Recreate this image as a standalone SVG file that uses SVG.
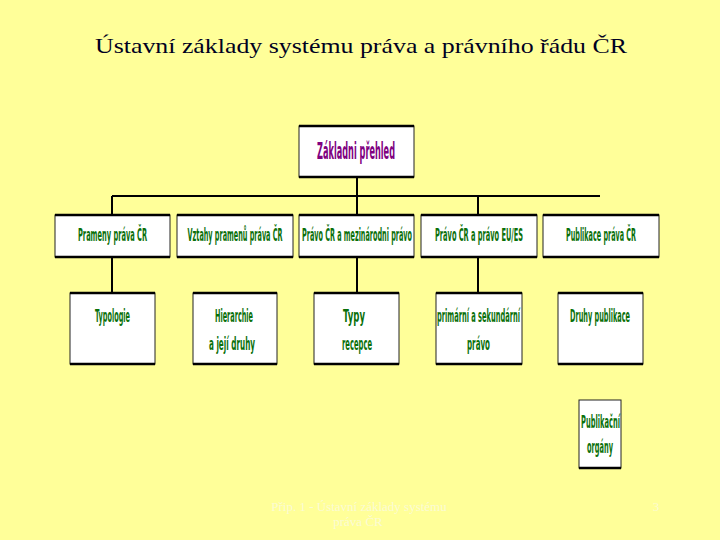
<svg xmlns="http://www.w3.org/2000/svg" width="720" height="540" viewBox="0 0 720 540">
<style>
.box{fill:#ffffff;stroke:#222;stroke-width:1}
.edge{stroke:#000;stroke-width:2.5}
.conn{stroke:#000;stroke-width:2;fill:none}
.t{font-family:"Liberation Sans Narrow","DejaVu Sans Condensed","Liberation Sans",sans-serif;font-weight:bold;text-anchor:middle}
.g{fill:#0a700a;font-size:18.5px}
.p{fill:#800080;font-size:23px}
.foot{font-family:"Liberation Serif",serif;font-size:13px;fill:#fbfbd4}
</style>
<rect width="720" height="540" fill="#ffff99"/>
<text x="361" y="53" font-family="Liberation Serif,serif" font-size="22" fill="#000022" text-anchor="middle" textLength="532" lengthAdjust="spacingAndGlyphs">Ústavní základy systému práva a právního řádu ČR</text>

<g id="connectors">
<path class="conn" d="M357,177 V196 M112,196 H600 M112,196 V215 M357,196 V215 M478,196 V215 M112,257 V293 M357,257 V293 M478,257 V293"/>
</g>

<g id="n-prehled">
<rect class="box" x="299" y="126" width="115" height="51"/>
<line class="edge" x1="299" y1="126" x2="414" y2="126"/><line class="edge" x1="299" y1="177" x2="414" y2="177"/>
<text class="t p" x="356" y="159" textLength="78" lengthAdjust="spacingAndGlyphs">Základni přehled</text>
</g>

<g id="n-prameny">
<rect class="box" x="55" y="215" width="115" height="42"/>
<line class="edge" x1="55" y1="215" x2="170" y2="215"/><line class="edge" x1="55" y1="257" x2="170" y2="257"/>
<text class="t g" x="112.5" y="241" textLength="69" lengthAdjust="spacingAndGlyphs">Prameny práva ČR</text>
</g>
<g id="n-vztahy">
<rect class="box" x="177" y="215" width="116" height="42"/>
<line class="edge" x1="177" y1="215" x2="293" y2="215"/><line class="edge" x1="177" y1="257" x2="293" y2="257"/>
<text class="t g" x="235" y="241" textLength="95" lengthAdjust="spacingAndGlyphs">Vztahy pramenů práva ČR</text>
</g>
<g id="n-mezinarodni">
<rect class="box" x="299" y="215" width="115" height="42"/>
<line class="edge" x1="299" y1="215" x2="414" y2="215"/><line class="edge" x1="299" y1="257" x2="414" y2="257"/>
<text class="t g" x="357" y="241" textLength="110" lengthAdjust="spacingAndGlyphs">Právo ČR a mezinárodni právo</text>
</g>
<g id="n-eu">
<rect class="box" x="421" y="215" width="116" height="42"/>
<line class="edge" x1="421" y1="215" x2="537" y2="215"/><line class="edge" x1="421" y1="257" x2="537" y2="257"/>
<text class="t g" x="479" y="241" textLength="88" lengthAdjust="spacingAndGlyphs">Právo ČR a právo EU/ES</text>
</g>
<g id="n-publikace">
<rect class="box" x="543" y="215" width="116" height="42"/>
<line class="edge" x1="543" y1="215" x2="659" y2="215"/><line class="edge" x1="543" y1="257" x2="659" y2="257"/>
<text class="t g" x="601" y="241" textLength="70" lengthAdjust="spacingAndGlyphs">Publikace práva ČR</text>
</g>

<g id="n-typologie">
<rect class="box" x="70" y="293" width="85" height="71"/>
<line class="edge" x1="70" y1="293" x2="155" y2="293"/><line class="edge" x1="70" y1="364" x2="155" y2="364"/>
<text class="t g" x="112.5" y="322" textLength="35" lengthAdjust="spacingAndGlyphs">Typologie</text>
</g>
<g id="n-hierarchie">
<rect class="box" x="193" y="293" width="84" height="71"/>
<line class="edge" x1="193" y1="293" x2="277" y2="293"/><line class="edge" x1="193" y1="364" x2="277" y2="364"/>
<text class="t g" x="234" y="322" textLength="38" lengthAdjust="spacingAndGlyphs">Hierarchie</text>
<text class="t g" x="232" y="350" textLength="46" lengthAdjust="spacingAndGlyphs">a její druhy</text>
</g>
<g id="n-typy">
<rect class="box" x="314" y="293" width="85" height="71"/>
<line class="edge" x1="314" y1="293" x2="399" y2="293"/><line class="edge" x1="314" y1="364" x2="399" y2="364"/>
<text class="t g" x="354" y="322" textLength="22" lengthAdjust="spacingAndGlyphs">Typy</text>
<text class="t g" x="357" y="350" textLength="30" lengthAdjust="spacingAndGlyphs">recepce</text>
</g>
<g id="n-primarni">
<rect class="box" x="436" y="293" width="86" height="71"/>
<line class="edge" x1="436" y1="293" x2="522" y2="293"/><line class="edge" x1="436" y1="364" x2="522" y2="364"/>
<text class="t g" x="478.5" y="322" textLength="83" lengthAdjust="spacingAndGlyphs">primární a sekundární</text>
<text class="t g" x="478.5" y="350" textLength="23" lengthAdjust="spacingAndGlyphs">právo</text>
</g>
<g id="n-druhy">
<rect class="box" x="558" y="293" width="85" height="71"/>
<line class="edge" x1="558" y1="293" x2="643" y2="293"/><line class="edge" x1="558" y1="364" x2="643" y2="364"/>
<text class="t g" x="600" y="322" textLength="60" lengthAdjust="spacingAndGlyphs">Druhy publikace</text>
</g>

<g id="n-organy">
<rect class="box" x="579" y="400" width="42" height="68" stroke-width="1.5"/>
<line class="edge" x1="579" y1="468" x2="621" y2="468"/>
<text class="t g" x="600.5" y="428" textLength="39" lengthAdjust="spacingAndGlyphs">Publikační</text>
<text class="t g" x="600" y="453" textLength="26" lengthAdjust="spacingAndGlyphs">orgány</text>
</g>

<text class="foot" x="359" y="511" text-anchor="middle">Přip. 1 - Ústavní základy systému</text>
<text class="foot" x="358" y="526" text-anchor="middle">práva ČR</text>
<text class="foot" x="656" y="511" text-anchor="middle">3</text>
</svg>
